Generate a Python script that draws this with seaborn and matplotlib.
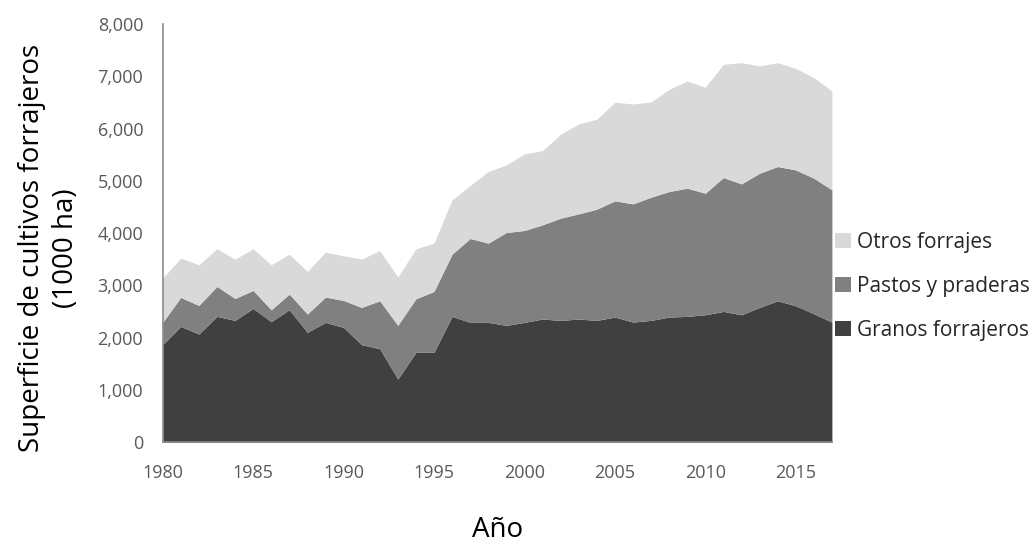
import numpy as np
import pandas as pd
import matplotlib
matplotlib.use("Agg")
import matplotlib.pyplot as plt
import seaborn as sns
from matplotlib.patches import Patch
from matplotlib.ticker import FuncFormatter

years = list(range(1980, 2018))
granos = [1866, 2216, 2070, 2408, 2331, 2560, 2306, 2535, 2102, 2293,
          2197, 1866, 1790, 1210, 1720, 1720, 2408, 2293, 2293, 2236,
          2293, 2357, 2331, 2357, 2331, 2395, 2299, 2331, 2395, 2408,
          2439, 2503, 2439, 2579, 2707, 2611, 2458, 2299]
pastos = [427, 555, 548, 573, 420, 344, 229, 299, 350, 484,
          516, 713, 917, 1026, 1025, 1165, 1190, 1605, 1516, 1776,
          1758, 1802, 1955, 2012, 2127, 2223, 2261, 2357, 2401, 2452,
          2325, 2560, 2503, 2567, 2567, 2599, 2593, 2529]
otros = [847, 751, 777, 719, 752, 796, 860, 764, 815, 860,
         854, 924, 961, 923, 955, 924, 1039, 1013, 1369, 1293,
         1465, 1420, 1605, 1720, 1720, 1885, 1911, 1821, 1955, 2050,
         2025, 2166, 2319, 2051, 1987, 1942, 1923, 1891]
series_names = ["Granos forrajeros", "Pastos y praderas", "Otros forrajes"]
colors = ["#404040", "#808080", "#d9d9d9"]

df = pd.DataFrame({"Año": years, series_names[0]: granos,
                   series_names[1]: pastos, series_names[2]: otros})

sns.set_theme(style="white")
plt.rcParams["font.family"] = ["Open Sans", "DejaVu Sans"]

fig = plt.figure(figsize=(10.36, 5.46), dpi=100)
ax = fig.add_axes([0.157, 0.190, 0.646, 0.766])

ax.stackplot(df["Año"], df[series_names[0]], df[series_names[1]], df[series_names[2]],
             colors=colors, linewidth=0)

ax.set_xlim(1980, 2017)
ax.set_ylim(0, 8000)
ax.set_xticks(range(1980, 2016, 5))
ax.set_yticks(range(0, 8001, 1000))
ax.yaxis.set_major_formatter(FuncFormatter(lambda v, p: f"{int(v):,}"))
sns.despine(ax=ax)
for s in ["left", "bottom"]:
    ax.spines[s].set_color("#8c8c8c")
    ax.spines[s].set_linewidth(1.2)
ax.tick_params(axis="both", which="major", direction="out", length=5, width=1.2,
               color="#8c8c8c", labelcolor="#595959", labelsize=13)
ax.tick_params(axis="x", pad=11)
ax.tick_params(axis="y", pad=9)

fig.text(0.047, 0.546, "Superficie de cultivos forrajeros\n(1000 ha)", rotation=90,
         ha="center", va="center", fontsize=20, color="black", linespacing=1.3,
         multialignment="center")
fig.text(0.480, 0.030, "Año", ha="center", va="center", fontsize=20, color="black")

handles = [Patch(facecolor=colors[i], edgecolor="none") for i in [2, 1, 0]]
labels = [series_names[i] for i in [2, 1, 0]]
fig.legend(handles, labels, loc="center left", bbox_to_anchor=(0.806, 0.476),
           frameon=False, fontsize=15, handlelength=0.75, handleheight=0.75,
           handletextpad=0.3, labelspacing=1.1, borderaxespad=0, borderpad=0)

fig.savefig("out.png", dpi=100)
